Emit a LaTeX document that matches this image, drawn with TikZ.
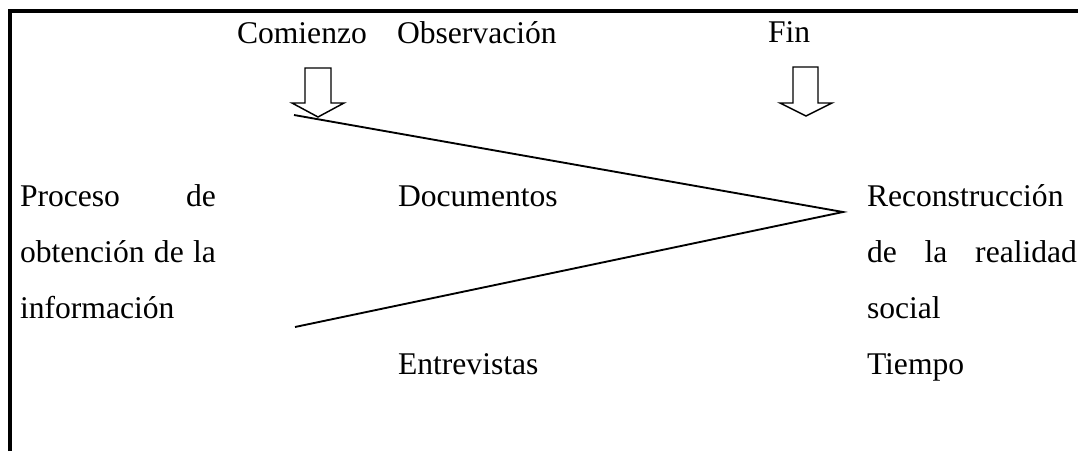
\documentclass[tikz,border=0pt]{standalone}
\usepackage{fontspec}
\setmainfont{Liberation Serif}
\begin{document}
\begin{tikzpicture}[x=0.75pt,y=-0.75pt,
  lbl/.style={inner sep=0pt,outer sep=0pt,anchor=base west,font=\fontsize{23.7}{28}\selectfont},
  frameline/.style={line width=3pt,line cap=butt},
  conn/.style={line width=1.4pt},
  blockarrow/.style={line width=1.1pt,line join=miter}]
\useasboundingbox (0,0) rectangle (1078,451);
% frame
\draw[frameline] (10,451) -- (10,11) -- (1078,11);
% top labels
\node[lbl] (comienzo) at (237,43) {Comienzo};
\node[lbl] (obs) at (397,43) {Observación};
\node[lbl] (fin) at (768,42) {Fin};
% left block
\node[lbl] (proc1) at (20,206) {\makebox[196\dimexpr0.75pt\relax][s]{Proceso de}};
\node[lbl] (proc2) at (20,262) {\makebox[196\dimexpr0.75pt\relax][s]{obtención de la}};
\node[lbl] (proc3) at (20,318) {información};
% middle
\node[lbl] (doc) at (398,206) {Documentos};
\node[lbl] (ent) at (398,374) {Entrevistas};
% right block
\node[lbl] (rec1) at (867,206) {Reconstrucción};
\node[lbl] (rec2) at (867,262) {\makebox[210\dimexpr0.75pt\relax][s]{de la realidad}};
\node[lbl] (rec3) at (867,318) {social};
\node[lbl] (tiempo) at (867,374) {Tiempo};
% block arrows
\coordinate (a1) at (318,117);
\coordinate (a2) at (806,116);
\draw[blockarrow] (a1) -- ++(-26,-14) -- ++(13,0) -- ++(0,-35) -- ++(26,0) -- ++(0,35) -- ++(13,0) -- cycle;
\draw[blockarrow] (a2) -- ++(-26,-13) -- ++(13,0) -- ++(0,-36) -- ++(25,0) -- ++(0,36) -- ++(14,0) -- cycle;
% converging lines
\coordinate (ltop) at (294,115);
\coordinate (apex) at (843,212);
\coordinate (lbot) at (295,327);
\draw[conn] (ltop) -- (apex) -- (lbot);
\end{tikzpicture}
\end{document}
